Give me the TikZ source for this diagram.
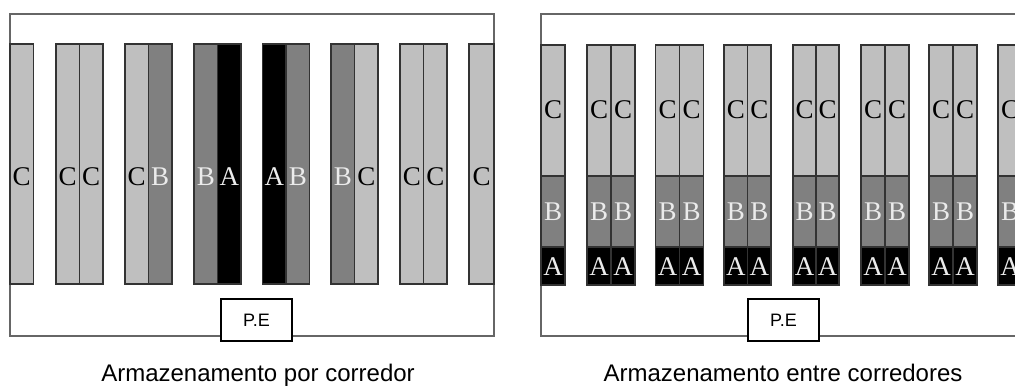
\documentclass[tikz,border=0pt]{standalone}
\usepackage{fontspec}
\setmainfont{Liberation Serif}
\setsansfont{Liberation Sans}
\usepackage{tikz}

\tikzset{
  cellC/.style={draw=black!80, line width=0.75pt, fill=black!25},
  cellB/.style={draw=black!80, line width=0.75pt, fill=black!50},
  cellA/.style={draw=black!80, line width=0.75pt, fill=black},
  letter/.style={inner sep=0pt, font=\fontsize{13.5}{15}\selectfont},
  letterW/.style={letter, text=white!92!black},
  frame/.style={draw=black!60, line width=0.6pt},
  pe/.style={draw, line width=1pt, fill=white, minimum width=35.5pt, minimum height=21pt,
             font=\sffamily\fontsize{9}{11}\selectfont},
  caption/.style={anchor=base, font=\sffamily\fontsize{12}{14}\selectfont}
}

\begin{document}
\begin{tikzpicture}[x=0.5pt, y=-0.5pt]
        \useasboundingbox (0,0) rectangle (1015,385);
        \clip (0,0) rectangle (1015,385);

        % per-aisle storage
        \draw [frame] (10,14) rectangle (494,336);
        \draw [cellC] (10,44) rectangle (33.5,284)      node [letter]  (l1a) at (21.75,177)  {C};
        \draw [cellC] (56,44) rectangle (79.5,284)      node [letter]  (l2a) at (67.75,177)  {C};
        \draw [cellC] (79.5,44) rectangle (103,284)     node [letter]  (l2b) at (91.25,177)  {C};
        \draw [cellC] (125,44) rectangle (148.5,284)    node [letter]  (l3a) at (136.75,177) {C};
        \draw [cellB] (148.5,44) rectangle (172,284)    node [letterW] (l3b) at (160.25,177) {B};
        \draw [cellB] (194,44) rectangle (217.5,284)    node [letterW] (l4a) at (205.75,177) {B};
        \draw [cellA] (217.5,44) rectangle (241,284)    node [letterW] (l4b) at (229.25,177) {A};
        \draw [cellA] (262.5,44) rectangle (286,284)    node [letterW] (l5a) at (274.25,177) {A};
        \draw [cellB] (286,44) rectangle (309.5,284)    node [letterW] (l5b) at (297.75,177) {B};
        \draw [cellB] (331,44) rectangle (354.5,284)    node [letterW] (l6a) at (342.75,177) {B};
        \draw [cellC] (354.5,44) rectangle (378,284)    node [letter]  (l6b) at (366.25,177) {C};
        \draw [cellC] (400,44) rectangle (423.5,284)    node [letter]  (l7a) at (411.75,177) {C};
        \draw [cellC] (423.5,44) rectangle (447,284)    node [letter]  (l7b) at (435.25,177) {C};
        \draw [cellC] (469,44) rectangle (494,284)      node [letter]  (l8a) at (481.5,177)  {C};
        \node [pe] (pe1) at (256.5,320) {P.E};
        \node [caption] (cap1) at (258,381) {Armazenamento por corredor};

        % between-aisle storage
        \draw [frame] (541,14) rectangle (1025,336);
        \draw [cellC] (541,45) rectangle (565,176)  node [letter]  (r1c) at (553,110) {C};  %rack 1
        \draw [cellB] (541,176) rectangle (565,247) node [letterW] (r1b) at (553,212) {B};
        \draw [cellA] (541,247) rectangle (565,285) node [letterW] (r1a) at (553,267) {A};
        \draw [cellC] (587,45) rectangle (611,176) (611,45) rectangle (635,176)     node [letter]  (r2c) at (599,110) {C} node [letter]  at (623,110) {C};  %rack 2
        \draw [cellB] (587,176) rectangle (611,247) (611,176) rectangle (635,247)   node [letterW] (r2b) at (599,212) {B} node [letterW] at (623,212) {B};
        \draw [cellA] (587,247) rectangle (611,285) (611,247) rectangle (635,285)   node [letterW] (r2a) at (599,267) {A} node [letterW] at (623,267) {A};
        \draw [cellC] (655.5,45) rectangle (679.5,176) (679.5,45) rectangle (703.5,176)   node [letter]  (r3c) at (667.5,110) {C} node [letter]  at (691.5,110) {C};  %rack 3
        \draw [cellB] (655.5,176) rectangle (679.5,247) (679.5,176) rectangle (703.5,247) node [letterW] (r3b) at (667.5,212) {B} node [letterW] at (691.5,212) {B};
        \draw [cellA] (655.5,247) rectangle (679.5,285) (679.5,247) rectangle (703.5,285) node [letterW] (r3a) at (667.5,267) {A} node [letterW] at (691.5,267) {A};
        \draw [cellC] (724,45) rectangle (747.5,176) (747.5,45) rectangle (771,176)   node [letter]  (r4c) at (735.75,110) {C} node [letter]  at (759.25,110) {C};  %rack 4
        \draw [cellB] (724,176) rectangle (747.5,247) (747.5,176) rectangle (771,247) node [letterW] (r4b) at (735.75,212) {B} node [letterW] at (759.25,212) {B};
        \draw [cellA] (724,247) rectangle (747.5,285) (747.5,247) rectangle (771,285) node [letterW] (r4a) at (735.75,267) {A} node [letterW] at (759.25,267) {A};
        \draw [cellC] (793,45) rectangle (816,176) (816,45) rectangle (839,176)     node [letter]  (r5c) at (804.5,110) {C} node [letter]  at (827.5,110) {C};  %rack 5
        \draw [cellB] (793,176) rectangle (816,247) (816,176) rectangle (839,247)   node [letterW] (r5b) at (804.5,212) {B} node [letterW] at (827.5,212) {B};
        \draw [cellA] (793,247) rectangle (816,285) (816,247) rectangle (839,285)   node [letterW] (r5a) at (804.5,267) {A} node [letterW] at (827.5,267) {A};
        \draw [cellC] (861,45) rectangle (885,176) (885,45) rectangle (909,176)     node [letter]  (r6c) at (873,110) {C} node [letter]  at (897,110) {C};  %rack 6
        \draw [cellB] (861,176) rectangle (885,247) (885,176) rectangle (909,247)   node [letterW] (r6b) at (873,212) {B} node [letterW] at (897,212) {B};
        \draw [cellA] (861,247) rectangle (885,285) (885,247) rectangle (909,285)   node [letterW] (r6a) at (873,267) {A} node [letterW] at (897,267) {A};
        \draw [cellC] (929,45) rectangle (953,176) (953,45) rectangle (977,176)     node [letter]  (r7c) at (941,110) {C} node [letter]  at (965,110) {C};  %rack 7
        \draw [cellB] (929,176) rectangle (953,247) (953,176) rectangle (977,247)   node [letterW] (r7b) at (941,212) {B} node [letterW] at (965,212) {B};
        \draw [cellA] (929,247) rectangle (953,285) (953,247) rectangle (977,285)   node [letterW] (r7a) at (941,267) {A} node [letterW] at (965,267) {A};
        \draw [cellC] (998,45) rectangle (1022,176)  node [letter]  (r8c) at (1010,110) {C};  %rack 8, runs past the edge
        \draw [cellB] (998,176) rectangle (1022,247) node [letterW] (r8b) at (1010,212) {B};
        \draw [cellA] (998,247) rectangle (1022,285) node [letterW] (r8a) at (1010,267) {A};
        \node [pe] (pe2) at (783.5,320) {P.E};
        \node [caption] (cap2) at (783,381) {Armazenamento entre corredores};
\end{tikzpicture}
\end{document}
